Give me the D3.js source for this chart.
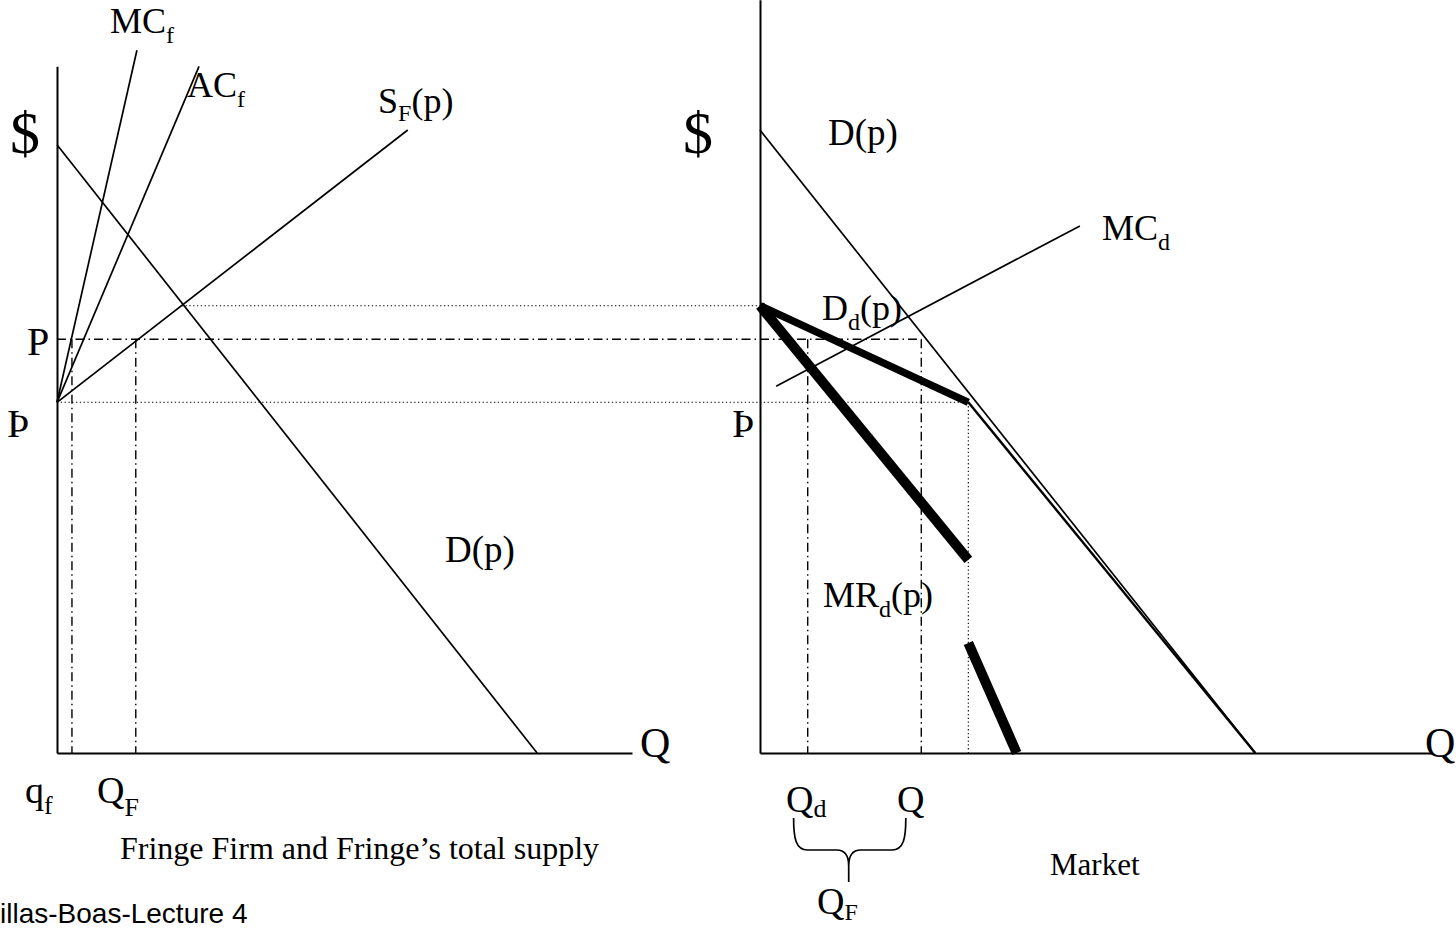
<!DOCTYPE html>
<html><head><meta charset="utf-8">
<script src="https://cdn.jsdelivr.net/npm/d3@7/dist/d3.min.js"></script>
<style>html,body{margin:0;padding:0;background:#fff;}svg{display:block;}</style>
</head><body>
<svg id="chart" width="1456" height="929"></svg>
<script>
// ---- data (quantity, price) in model units ----
const priceHigh = 63.9;   // upper dotted level (D_d kink at axis)
const priceP = 59.1;      // P
const priceLow = 50.1;    // P̲
const leftAxisTop = 98.1;
const rightAxisTop = 107.6;
const axisMaxQ = 100;

// left panel: fringe firm & fringe supply
const fringeMC = [[0, 50.1], [13.9, 100.4]];
const fringeAC = [[0, 50.1], [24.7, 98.1]];
const fringeSupply = [[0, 50.1], [61.0, 89.0]];
const demandLeft = [[0, 86.9], [83.5, 0]];
const leftQuantities = [2.6, 13.7];        // q_f, Q_F
const leftCross = 21.7;                    // S_F ∩ D(p)

// right panel: market
const demandRight = [[0, 89.0], [73.7, 0]];
const dominantDemandThick = [[0, 63.9], [31.0, 50.1]];
const dominantDemandThin = [[31.0, 50.1], [73.7, 0]];
const dominantMRUpper = [[0, 63.9], [31.0, 27.6]];
const dominantMRLower = [[31.0, 15.7], [38.2, 0]];
const dominantMC = [[2.4, 52.4], [47.6, 75.3]];
const rightQuantities = [7.1, 24.0];       // Q_d, Q
const kinkQ = 31.0;

// ---- scales ----
const y = d3.scaleLinear().domain([0, 100]).range([753, 53]);
const xL = d3.scaleLinear().domain([0, axisMaxQ]).range([57, 632]);
const xR = d3.scaleLinear().domain([0, axisMaxQ]).range([760, 1432]);

const svg = d3.select("#chart");
const serif = "'Liberation Serif', 'Times New Roman', serif";
const DOT = "1.3,2.5";
const DASHDOT = "9,4,1.5,4";

function line(xs) { return d3.line().x(d => xs(d[0])).y(d => y(d[1])); }
function draw(data, xs, w, dash) {
  const p = svg.append("path").datum(data).attr("d", line(xs)).attr("fill", "none")
    .attr("stroke", "#000").attr("stroke-width", w);
  if (dash) p.attr("stroke-dasharray", dash);
  return p;
}
function seg(x1, y1, x2, y2, w, dash) {
  const l = svg.append("line").attr("x1", x1).attr("y1", y1).attr("x2", x2).attr("y2", y2)
    .attr("stroke", "#000").attr("stroke-width", w);
  if (dash) l.attr("stroke-dasharray", dash);
}

// ---- guide lines ----
seg(xL(leftCross), y(priceHigh), xR(0), y(priceHigh), 1.1, DOT);
seg(xL(0), y(priceP), xR(rightQuantities[1]), y(priceP), 1.4, DASHDOT);
seg(xL(0), y(priceLow), xR(kinkQ), y(priceLow), 1.1, DOT);
leftQuantities.forEach(q => seg(xL(q), y(priceP), xL(q), y(0), 1.4, DASHDOT));
rightQuantities.forEach(q => seg(xR(q), y(priceP), xR(q), y(0), 1.4, DASHDOT));
seg(xR(kinkQ), y(priceLow), xR(kinkQ), y(0), 1.1, DOT);

// ---- axes ----
svg.append("g").attr("transform", `translate(${xL(0)},0)`)
  .call(d3.axisLeft(d3.scaleLinear().domain([0, leftAxisTop]).range([y(0), y(leftAxisTop)])).ticks(0).tickSize(0).tickFormat(""))
  .select(".domain").attr("stroke-width", 2);
svg.append("g").attr("transform", `translate(0,${y(0)})`)
  .call(d3.axisBottom(xL).ticks(0).tickSize(0).tickFormat(""))
  .select(".domain").attr("stroke-width", 2);
svg.append("g").attr("transform", `translate(${xR(0)},0)`)
  .call(d3.axisLeft(d3.scaleLinear().domain([0, rightAxisTop]).range([y(0), y(rightAxisTop)])).ticks(0).tickSize(0).tickFormat(""))
  .select(".domain").attr("stroke-width", 2);
svg.append("g").attr("transform", `translate(0,${y(0)})`)
  .call(d3.axisBottom(xR).ticks(0).tickSize(0).tickFormat(""))
  .select(".domain").attr("stroke-width", 2);

// ---- curves ----
draw(fringeMC, xL, 1.7);
draw(fringeAC, xL, 1.7);
draw(fringeSupply, xL, 1.7);
draw(demandLeft, xL, 1.7);
draw(demandRight, xR, 1.7);
draw(dominantMC, xR, 1.7);
draw(dominantDemandThin, xR, 2.4);
draw(dominantDemandThick, xR, 7.5).attr("stroke-linejoin", "round");
draw(dominantMRUpper, xR, 10);
draw(dominantMRLower, xR, 10);

// ---- brace under Q_d .. Q ----
const bl = xR(5.0), br = xR(21.7), bc = xR(13.2);
svg.append("path").attr("fill", "none").attr("stroke", "#000").attr("stroke-width", 1.7)
  .attr("d", `M${bl},818 C${bl},838 ${bl+2},850 ${bl+14},850 L${bc-12},850 C${bc-3},850 ${bc},856 ${bc},866 L${bc},882 M${bc},866 C${bc},856 ${bc+3},850 ${bc+12},850 L${br-14},850 C${br-2},850 ${br},838 ${br},818`);

// ---- labels ----
function label(x, yy, main, sub, rest, size, subSize, subDy, family) {
  const t = svg.append("text").attr("x", x).attr("y", yy).attr("font-family", family || serif)
    .attr("font-size", size).attr("fill", "#000");
  t.append("tspan").text(main);
  if (sub) t.append("tspan").attr("font-size", subSize).attr("dy", subDy).text(sub);
  if (rest) t.append("tspan").attr("dy", -subDy).text(rest);
}
label(110, 33, "MC", "f", null, 36, 24, 10);
label(187, 97, "AC", "f", null, 36, 24, 10);
label(378, 113, "S", "F", "(p)", 36, 24, 8);
label(10, 153, "$", null, null, 60);
label(683, 153, "$", null, null, 60);
label(27, 355, "P", null, null, 40);
label(7, 437, "Þ", null, null, 40);
label(732, 437, "Þ", null, null, 40);
label(445, 562, "D(p)", null, null, 37);
label(828, 145, "D(p)", null, null, 37);
label(1102, 240, "MC", "d", null, 36, 24, 10);
label(822, 320, "D", "d", "(p)", 36, 24, 10);
label(823, 607, "MR", "d", "(p)", 36, 24, 10);
label(640, 757, "Q", null, null, 42);
label(1425, 757, "Q", null, null, 42);
label(25, 803, "q", "f", null, 38, 26, 11);
label(97, 803, "Q", "F", null, 38, 26, 13);
label(786, 812, "Q", "d", null, 38, 26, 5);
label(897, 812, "Q", null, null, 38);
label(817, 914, "Q", "F", null, 38, 24, 6);
label(120, 859, "Fringe Firm and Fringe’s total supply", null, null, 32);
label(1050, 875, "Market", null, null, 31);
label(0, 923, "illas-Boas-Lecture 4", null, null, 28, 0, 0, "'Liberation Sans', Arial, sans-serif");
</script>
</body></html>
